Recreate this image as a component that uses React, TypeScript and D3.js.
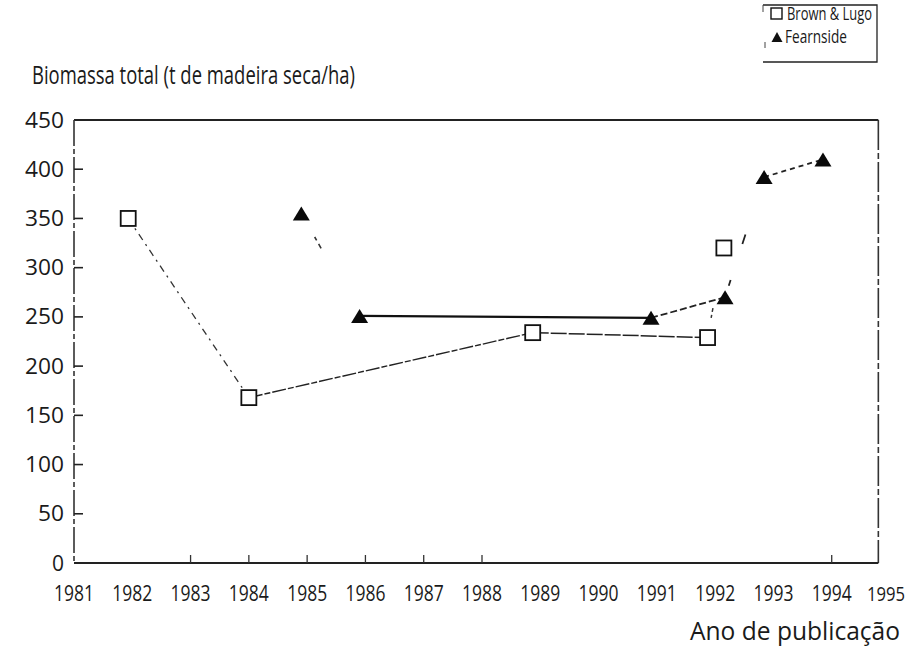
import React from "react";
import * as d3 from "d3";

const yearTicks = [1981, 1982, 1983, 1984, 1985, 1986, 1987, 1988, 1989, 1990, 1991, 1992, 1993, 1994, 1995];
const smallTickYears = [1983, 1984, 1985, 1986, 1987, 1988, 1994];
const valueTicks = [0, 50, 100, 150, 200, 250, 300, 350, 400, 450];

const brownYears = [1981.93, 1984.0, 1988.87, 1991.87, 1992.15];
const brownValues = [350, 168, 234, 229, 320];
const fearnYears = [1984.9, 1985.9, 1990.9, 1992.17, 1992.84, 1993.85];
const fearnValues = [355, 251, 249, 270, 392, 410];

// segment styles (between consecutive points)
const brownSegStyles = [
  { dash: "7 5 2 5", width: 1.3, color: "#333" },
  { dash: "14 2 6 2", width: 1.4, color: "#222" },
  { dash: "16 2", width: 1.5, color: "#222" },
  { dash: "0 20 3 3 4 200", width: 1.5, color: "#333" },
];
const fearnSegStyles = [
  { dash: "0 27 4 4 5 200", width: 1.6, color: "#333" },
  { dash: "", width: 2.2, color: "#111" },
  { dash: "7 3", width: 1.8, color: "#222" },
  { dash: "0 12 6 38 10 200", width: 1.8, color: "#222" },
  { dash: "5 4", width: 1.8, color: "#222" },
];

const W = 912;
const H = 655;
const FONT = "'Open Sans', 'DejaVu Sans', sans-serif";

export default function App() {
  const x = d3.scaleLinear().domain([1981, 1995]).range([74, 890]);
  const y = d3.scaleLinear().domain([0, 450]).range([563, 120]);
  const line = d3.line<[number, number]>().x((d) => x(d[0])).y((d) => y(d[1]));

  const xLeft = x(1981);
  const xRight = x(1994.8);
  const yTop = y(450);
  const yBottom = y(0);

  const segs = (yrs: number[], vals: number[], styles: any[]) =>
    yrs.slice(0, -1).map((yr, i) => ({
      d: line([
        [yr, vals[i]],
        [yrs[i + 1], vals[i + 1]],
      ]) as string,
      s: styles[i],
    }));

  const brownSegs = segs(brownYears, brownValues, brownSegStyles);
  const fearnSegs = segs(fearnYears, fearnValues, fearnSegStyles);

  const tri = (cx: number, cy: number, w: number, h: number) =>
    `M${cx - w / 2},${cy + h / 2}L${cx},${cy - h / 2}L${cx + w / 2},${cy + h / 2}Z`;

  const lastYear = yearTicks[yearTicks.length - 1];

  return (
    <svg
      width={W}
      height={H}
      style={{ position: "absolute", left: 0, top: 0, background: "#fff" }}
      fontFamily={FONT}
    >
      <rect x={0} y={0} width={W} height={H} fill="#fff" />

      {/* Title */}
      <text x={32} y={84} fontSize={26} fill="#1a1a1a" textLength={323} lengthAdjust="spacingAndGlyphs">
        Biomassa total (t de madeira seca/ha)
      </text>

      {/* Legend */}
      <g>
        <path d={`M763,5H877V62H763`} fill="none" stroke="#222" strokeWidth={1.3} />
        <line x1={763} x2={763} y1={5} y2={12} stroke="#444" strokeWidth={1} />
        <line x1={765} x2={765} y1={42} y2={48} stroke="#444" strokeWidth={1} />
        <rect x={771} y={8} width={11} height={11} fill="#fff" stroke="#111" strokeWidth={1.4} />
        <text x={787} y={20} fontSize={18} fill="#1a1a1a" textLength={85} lengthAdjust="spacingAndGlyphs">
          Brown &amp; Lugo
        </text>
        <path d={tri(777, 37, 11, 10)} fill="#111" />
        <text x={785} y={43} fontSize={18} fill="#1a1a1a" textLength={62} lengthAdjust="spacingAndGlyphs">
          Fearnside
        </text>
      </g>

      {/* Frame */}
      <line x1={xLeft} x2={xRight} y1={yTop} y2={yTop} stroke="#222" strokeWidth={1.8} />
      <line x1={xRight} x2={xRight} y1={yTop} y2={yBottom} stroke="#333" strokeWidth={1.6} strokeDasharray="30 3 6 3" />
      <line x1={xLeft} x2={xLeft} y1={yTop} y2={yBottom} stroke="#333" strokeWidth={1.6} strokeDasharray="26 3 5 3" />
      <line x1={xLeft} x2={xRight} y1={yBottom} y2={yBottom} stroke="#222" strokeWidth={1.8} />

      {/* Y ticks and labels */}
      {valueTicks.map((v) => (
        <g key={v}>
          {v > 0 && v < 450 && (
            <line x1={xLeft} x2={xLeft + 9} y1={y(v)} y2={y(v)} stroke="#222" strokeWidth={1.6} />
          )}
          <text x={64} y={y(v)} dy="0.36em" textAnchor="end" fontSize={21} fill="#1a1a1a" textLength={v === 0 ? undefined : v < 100 ? 26 : 39} lengthAdjust="spacingAndGlyphs">
            {v}
          </text>
        </g>
      ))}

      {/* X ticks and labels */}
      {smallTickYears.map((yr) => (
        <line key={yr} x1={x(yr)} x2={x(yr)} y1={yBottom} y2={yBottom - 8} stroke="#333" strokeWidth={1.3} />
      ))}
      {yearTicks.map((yr) => (
        <text
          key={yr}
          x={yr === lastYear ? x(yr) + 15 : x(yr)}
          y={601}
          textAnchor={yr === lastYear ? "end" : "middle"}
          fontSize={yr === lastYear ? 20 : 22}
          fill="#1a1a1a"
          textLength={yr === lastYear ? 38 : 40}
          lengthAdjust="spacingAndGlyphs"
        >
          {yr}
        </text>
      ))}

      <text x={690} y={640} fontSize={25} fill="#1a1a1a" textLength={210} lengthAdjust="spacingAndGlyphs">
        Ano de publicação
      </text>

      {/* Series lines */}
      {brownSegs.map((s, i) => (
        <path key={"b" + i} d={s.d} fill="none" stroke={s.s.color} strokeWidth={s.s.width} strokeDasharray={s.s.dash || undefined} />
      ))}
      {fearnSegs.map((s, i) => (
        <path key={"f" + i} d={s.d} fill="none" stroke={s.s.color} strokeWidth={s.s.width} strokeDasharray={s.s.dash || undefined} />
      ))}

      {/* Markers */}
      {brownYears.map((yr, i) => (
        <rect
          key={"bm" + i}
          x={x(yr) - 7.5}
          y={y(brownValues[i]) - 7.5}
          width={15}
          height={15}
          fill="#fff"
          stroke="#111"
          strokeWidth={1.8}
        />
      ))}
      {fearnYears.map((yr, i) => (
        <path key={"fm" + i} d={tri(x(yr), y(fearnValues[i]), 17, 14)} fill="#0a0a0a" />
      ))}
    </svg>
  );
}
